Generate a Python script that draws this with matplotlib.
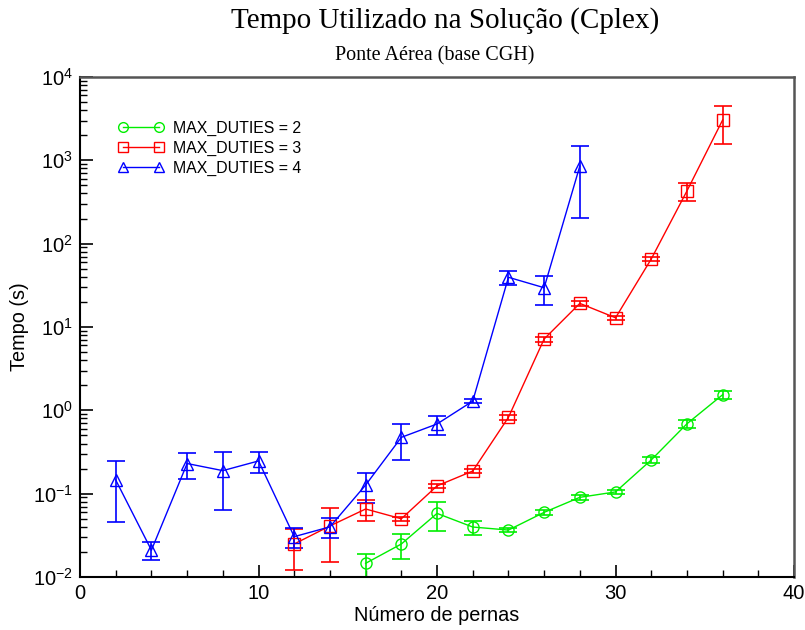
import matplotlib.pyplot as plt
from matplotlib.lines import Line2D
from matplotlib.ticker import MultipleLocator, LogLocator, NullFormatter

plt.rcParams['font.family'] = ['Liberation Sans', 'DejaVu Sans']
plt.rcParams['mathtext.fontset'] = 'custom'
plt.rcParams['mathtext.rm'] = 'Liberation Sans'
plt.rcParams['mathtext.it'] = 'Liberation Sans:italic'
plt.rcParams['mathtext.bf'] = 'Liberation Sans:bold'

# ---------------- data ----------------
x2 = [16, 18, 20, 22, 24, 26, 28, 30, 32, 34, 36]
y2 = [0.0146, 0.0249, 0.058, 0.0398, 0.0366, 0.0597, 0.0904, 0.105, 0.254, 0.69, 1.54]
e2 = [0.0045, 0.0083, 0.022, 0.0077, 0.002, 0.004, 0.006, 0.007, 0.02, 0.07, 0.19]

x3 = [12, 14, 16, 18, 20, 22, 24, 26, 28, 30, 32, 34, 36]
y3 = [0.0249, 0.041, 0.0655, 0.050, 0.124, 0.187, 0.824, 7.18, 19.2, 12.9, 65.5, 429, 3050]
e3 = [0.0128, 0.026, 0.019, 0.003, 0.008, 0.01, 0.05, 0.5, 1.2, 0.8, 4, 100, 1480]

x4 = [2, 4, 6, 8, 10, 12, 14, 16, 18, 20, 22, 24, 26, 28]
y4 = [0.146, 0.021, 0.23, 0.189, 0.247, 0.0305, 0.040, 0.127, 0.474, 0.686, 1.29, 39.5, 29.6, 855]
e4 = [0.1, 0.005, 0.08, 0.125, 0.07, 0.008, 0.011, 0.05, 0.22, 0.18, 0.06, 8.0, 11.0, 650]

series = [
    (x2, y2, e2, '#00ee00', 'o', 'MAX_DUTIES = 2'),
    (x3, y3, e3, '#ff0000', 's', 'MAX_DUTIES = 3'),
    (x4, y4, e4, '#0000ff', '^', 'MAX_DUTIES = 4'),
]

# ---------------- figure ----------------
fig = plt.figure(figsize=(8.05, 6.3), dpi=100)
ax = fig.add_axes([0.0994, 0.0841, 0.8870, 0.7937])

handles = []
for xs, ys, es, col, mk, lab in series:
    ax.errorbar(xs, ys, yerr=es, color=col, ecolor=col, marker=mk, mfc='none', mec=col,
                ms=8, lw=1, elinewidth=1.2, capsize=6.5, capthick=1.2)
    # legend handle: plain line with open markers at both ends
    handles.append(Line2D([], [], color=col, marker=mk, mfc='none', mec=col, ms=7, lw=1))

ax.set_yscale('log')
ax.set_xlim(0, 40)
ax.set_ylim(1e-2, 1e4)

ax.xaxis.set_major_locator(MultipleLocator(10))
ax.xaxis.set_minor_locator(MultipleLocator(2))
ax.yaxis.set_major_locator(LogLocator(base=10, numticks=10))
ax.yaxis.set_minor_locator(LogLocator(base=10, subs=range(2, 10), numticks=100))
ax.yaxis.set_minor_formatter(NullFormatter())

ax.tick_params(which='both', direction='in', top=False, right=False, labelsize=14.5, pad=5)
ax.tick_params(which='major', length=9, width=1.2)
ax.tick_params(which='minor', length=5, width=1)

for s in ['left', 'bottom']:
    ax.spines[s].set_linewidth(1.5)
for s in ['top', 'right']:
    ax.spines[s].set_color('#555555')
    ax.spines[s].set_linewidth(1.8)

ax.set_xlabel('Número de pernas', fontsize=14.3, labelpad=2)
ax.set_ylabel('Tempo (s)', fontsize=14.3, labelpad=3)

ax.legend(handles, [s[5] for s in series], loc='upper left', bbox_to_anchor=(0.053, 0.912),
          frameon=False, fontsize=11.4, numpoints=2, handlelength=2.9, handletextpad=0.6,
          labelspacing=0.3, borderaxespad=0, borderpad=0)

fig.text(0.553, 0.967, 'Tempo Utilizado na Solução (Cplex)', ha='center', va='center',
         family='Liberation Serif', fontsize=21)
fig.text(0.540, 0.911, 'Ponte Aérea (base CGH)', ha='center', va='center',
         family='Liberation Serif', fontsize=14.5)

fig.savefig('out.png', dpi=100)
